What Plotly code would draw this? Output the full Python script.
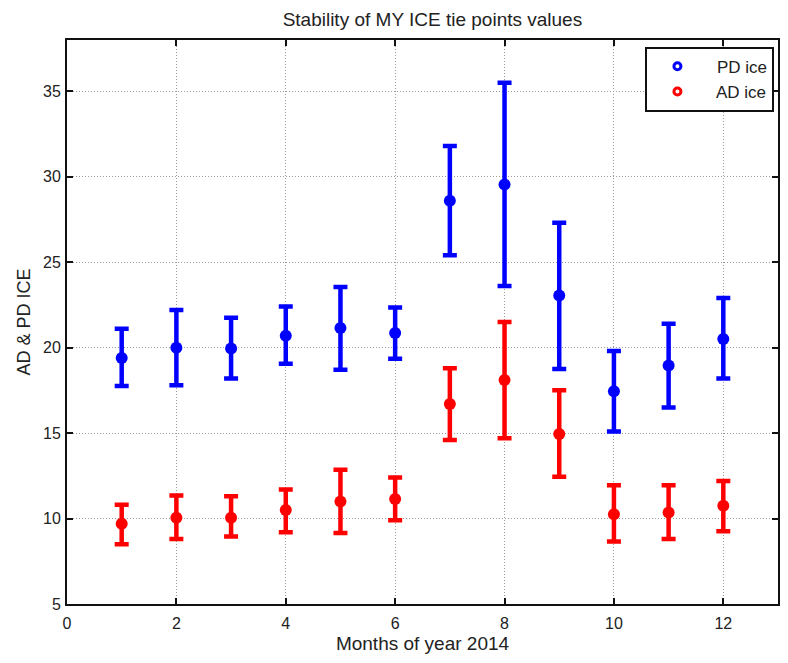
import plotly.graph_objects as go

months = [1, 2, 3, 4, 5, 6, 7, 8, 9, 10, 11, 12]

pd_mean = [19.4, 20.0, 19.95, 20.7, 21.15, 20.85, 28.6, 29.55, 23.05, 17.45, 18.95, 20.5]
pd_upper = [21.1, 22.2, 21.75, 22.4, 23.55, 22.35, 31.8, 35.5, 27.3, 19.8, 21.4, 22.9]
pd_lower = [17.75, 17.8, 18.2, 19.05, 18.7, 19.35, 25.4, 23.6, 18.75, 15.1, 16.5, 18.2]

ad_mean = [9.7, 10.05, 10.05, 10.5, 11.0, 11.15, 16.7, 18.1, 14.95, 10.25, 10.35, 10.75]
ad_upper = [10.8, 11.35, 11.3, 11.7, 12.85, 12.4, 18.8, 21.5, 17.5, 11.95, 11.95, 12.2]
ad_lower = [8.5, 8.8, 8.95, 9.2, 9.15, 9.9, 14.6, 14.7, 12.45, 8.65, 8.8, 9.25]

x_ticks = [0, 2, 4, 6, 8, 10, 12]
y_ticks = [5, 10, 15, 20, 25, 30, 35]

FONT = "Liberation Sans, Arial, sans-serif"
TXT = "#222222"

def plus(m, u):
    return [a - b for a, b in zip(u, m)]

def minus(m, l):
    return [a - b for a, b in zip(m, l)]

fig = go.Figure()

for name, mean, up, lo, col in [
    ("PD ice", pd_mean, pd_upper, pd_lower, "#0000ff"),
    ("AD ice", ad_mean, ad_upper, ad_lower, "#ff0000"),
]:
    fig.add_trace(go.Scatter(
        x=months, y=mean, mode="markers", name=name, showlegend=False,
        marker=dict(color=col, size=12),
        error_y=dict(type="data", symmetric=False, array=plus(mean, up),
                     arrayminus=minus(mean, lo), color=col, thickness=4.5, width=7),
    ))
    fig.add_trace(go.Scatter(
        x=[None], y=[None], mode="markers", name="  " + name, showlegend=True,
        marker=dict(color=col, size=7, symbol="circle-open", line=dict(width=3, color=col)),
    ))

axis_common = dict(
    showline=True, linecolor="#111111", linewidth=2, mirror="allticks",
    ticks="inside", ticklen=6, tickwidth=2, tickcolor="#111111",
    showgrid=True, gridcolor="#9a9a9a", griddash="1px,2px", gridwidth=1,
    zeroline=False, tickfont=dict(family=FONT, size=16, color=TXT),
)

fig.update_layout(
    width=788, height=663,
    margin=dict(l=67, r=8, t=40, b=59),
    plot_bgcolor="white", paper_bgcolor="white",
    title=dict(text="Stability of MY ICE tie points values", x=405 / 788, xref="paper",
               xanchor="center", y=1 - 19 / 663, yanchor="middle",
               font=dict(family=FONT, size=19, color=TXT)),
    xaxis=dict(range=[0, 13], tickvals=x_ticks, ticklabelstandoff=4,
               title=dict(text="Months of year 2014", font=dict(family=FONT, size=19, color=TXT), standoff=5),
               **axis_common),
    yaxis=dict(range=[5, 38], tickvals=y_ticks, ticklabelstandoff=1,
               title=dict(text="AD &amp; PD ICE", font=dict(family=FONT, size=18, color=TXT), standoff=8),
               **axis_common),
    legend=dict(x=0.995, xanchor="right", y=0.988, yanchor="top",
                bordercolor="#111111", borderwidth=2, bgcolor="white",
                tracegroupgap=0, itemwidth=50,
                font=dict(family=FONT, size=17, color=TXT)),
)

fig.write_html("out.html")
